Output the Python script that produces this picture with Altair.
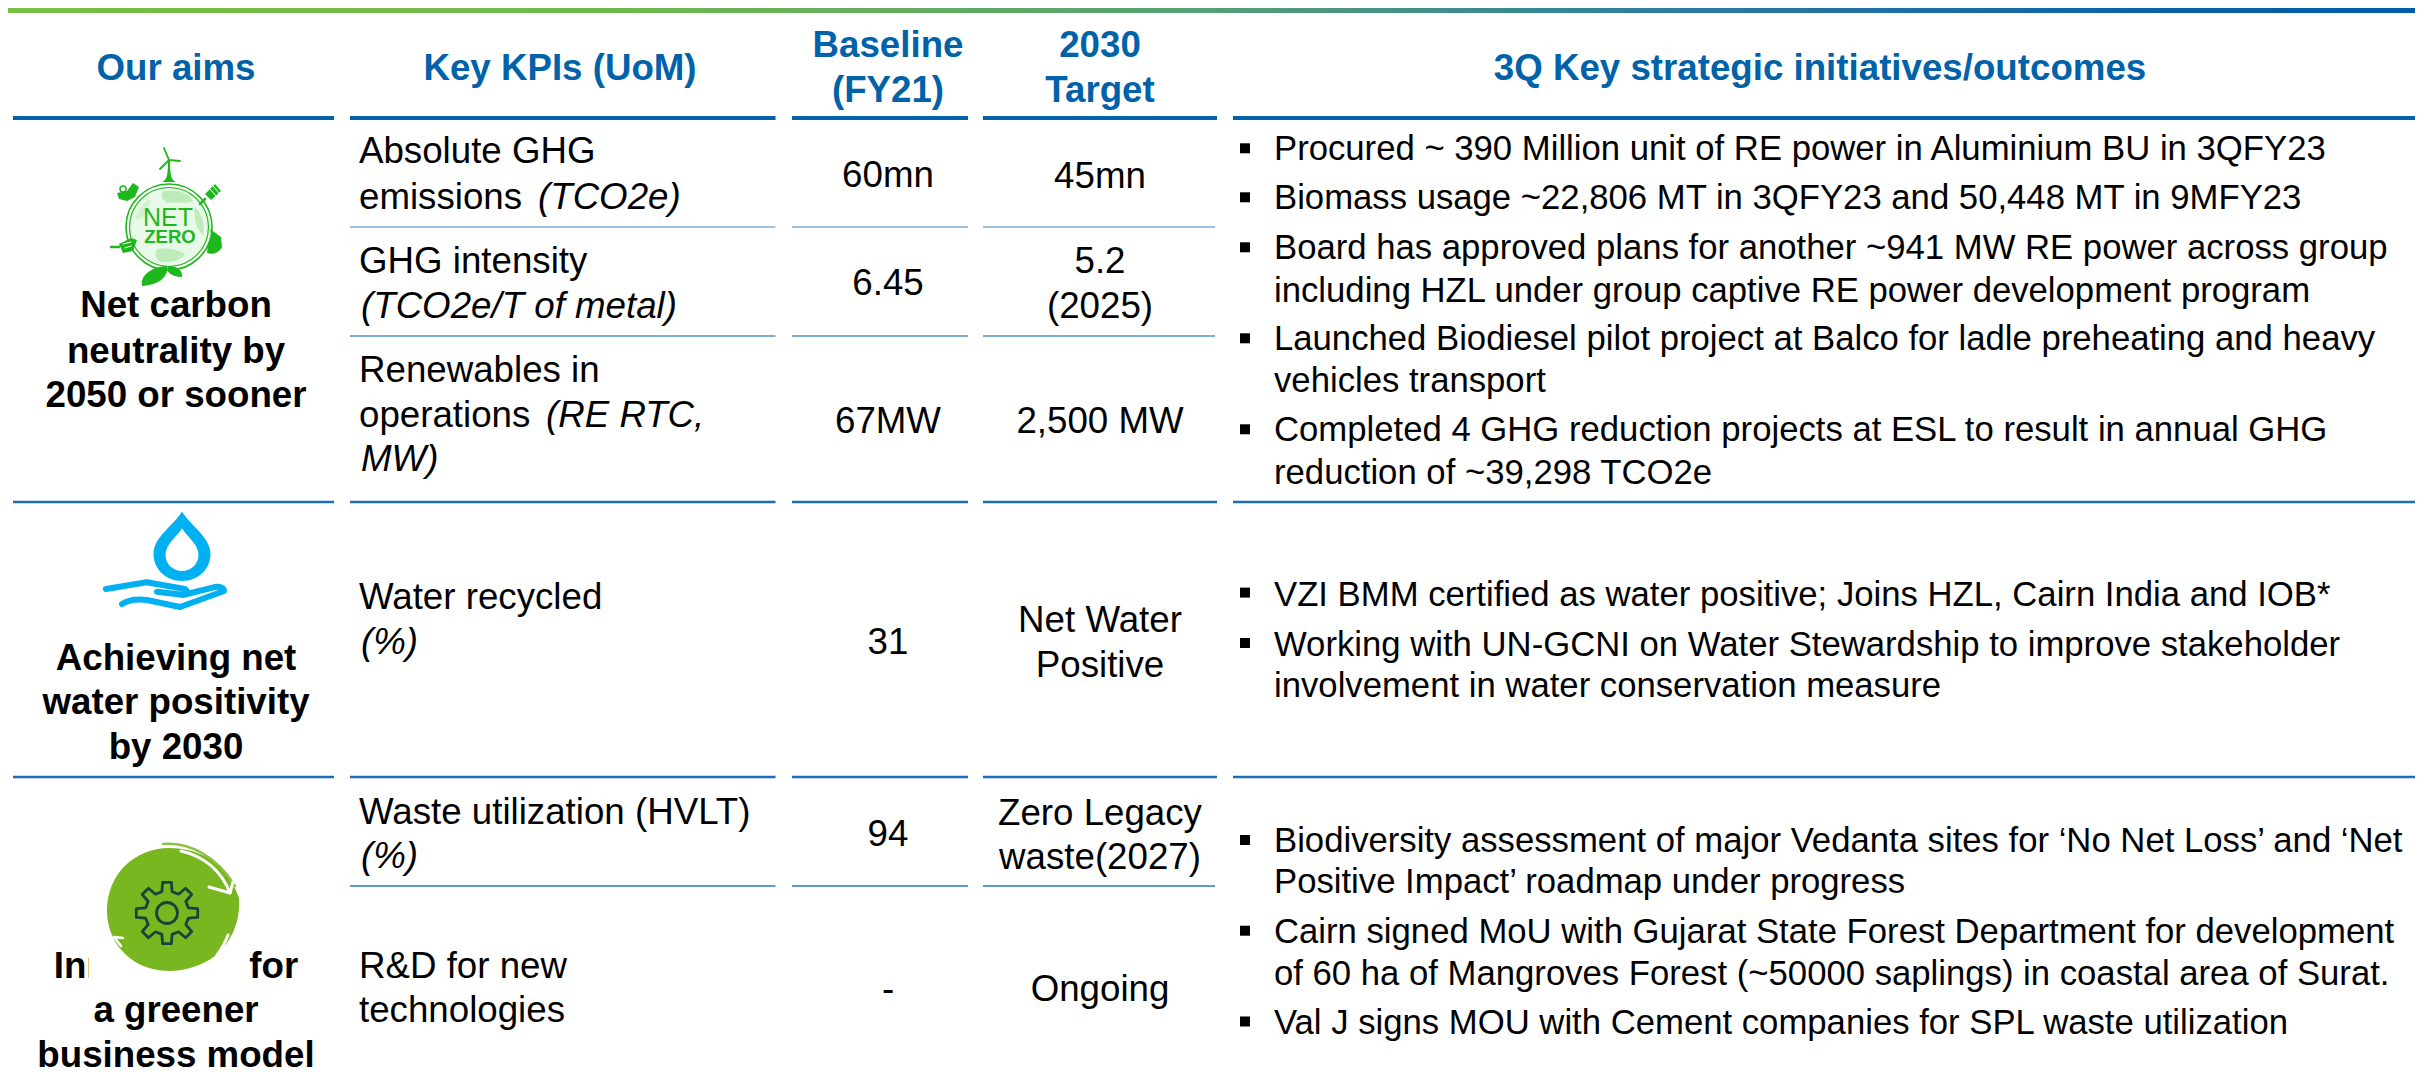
import math
import altair as alt
import pandas as pd

W, H = 2415, 1078
M = 8
FONT = "Liberation Sans"
BLUE = "#0062A9"
SKY = "#00B0F0"
LEAF = "#1CB81C"

# ---- text of the table ----
header_text = ["Our aims", "Key KPIs (UoM)", "Baseline", "(FY21)", "2030", "Target", "3Q Key strategic initiatives/outcomes"]
header_x = [176, 560, 888, 888, 1100, 1100, 1820]
header_y = [80, 80, 56.5, 101.5, 56.5, 101.5, 80]

aim_text = ["Net carbon", "neutrality by", "2050 or sooner", "Achieving net", "water positivity", "by 2030",
            "Innovation for", "a greener", "business model"]
aim_x = [176] * 9
aim_y = [317, 363, 407, 669.5, 714, 759, 978, 1021.5, 1066.5]

kpi_text = ["Absolute GHG", "emissions ", "GHG intensity", "Renewables in", "operations ", "Water recycled",
            "Waste utilization (HVLT)", "R&D for new", "technologies"]
kpi_x = [359] * 9
kpi_y = [163, 208.5, 272.5, 381.5, 427, 608.5, 824, 978, 1021.5]

unit_text = ["(TCO2e)", "(TCO2e/T of metal)", "(RE RTC,", "MW)", "(%)", "(%)"]
unit_x = [538, 361, 546, 361, 361, 361]
unit_y = [208.5, 318, 427, 471, 653.5, 868]

value_text = ["60mn", "6.45", "67MW", "31", "94", "-",
              "45mn", "5.2", "(2025)", "2,500 MW", "Net Water", "Positive", "Zero Legacy", "waste(2027)", "Ongoing"]
value_x = [888] * 6 + [1100] * 9
value_y = [187, 295, 432.5, 653.5, 846, 1001, 187.5, 273, 318, 433, 631.5, 677, 825, 869, 1001]

bullet_text = ["Procured ~ 390 Million unit of RE power in Aluminium BU in 3QFY23",
               "Biomass usage ~22,806 MT in 3QFY23 and 50,448 MT in 9MFY23",
               "Board has approved plans for another ~941 MW RE power across group",
               "including HZL under group captive RE power development program",
               "Launched Biodiesel pilot project at Balco for ladle preheating and heavy",
               "vehicles transport",
               "Completed 4 GHG reduction projects at ESL to result in annual GHG",
               "reduction of ~39,298 TCO2e",
               "VZI BMM certified as water positive; Joins HZL, Cairn India and IOB*",
               "Working with UN-GCNI on Water Stewardship to improve stakeholder",
               "involvement in water conservation measure",
               "Biodiversity assessment of major Vedanta sites for ‘No Net Loss’ and ‘Net",
               "Positive Impact’ roadmap under progress",
               "Cairn signed MoU with Gujarat State Forest Department for development",
               "of 60 ha of Mangroves Forest (~50000 saplings) in coastal area of Surat.",
               "Val J signs MOU with Cement companies for SPL waste utilization"]
bullet_x = [1274] * 16
bullet_y = [160.3, 209.3, 259.3, 301.7, 350, 392.4, 441.4, 483.8, 605.5, 655.6, 697.4, 851.9, 893.3, 943, 985, 1034]

mark_x = [1245] * 10
mark_y = [148.3, 197.3, 247.3, 338.3, 429.3, 592.6, 643, 840, 930.7, 1021.5]

# ---- rules: start, end, level, weight, colour ----
col_start = [13, 350, 792, 983, 1233]
col_end = [334, 775.5, 968, 1217, W]
rule_levels = [118, 502, 777]
rule_weights = [4, 2.5, 2.5]
rule_colors = [BLUE, "#1B6DB5", "#1B6DB5"]
sub_start = [350, 792, 983]
sub_end = [775.5, 968, 1215]
sub_levels = [227, 336, 886]
sub_weights = [1.5, 2, 1.5]
sub_colors = ["#7FAED6", "#7FAED6", "#2A77BC"]

XS = alt.Scale(domain=[M, W], range=[0, W - M], nice=False, zero=False)
YS = alt.Scale(domain=[H, M], range=[H - M, 0], nice=False, zero=False)
X = alt.X("x:Q", scale=XS, axis=None)
Y = alt.Y("y:Q", scale=YS, axis=None)


def text_layer(texts, xs, ys, **kw):
    df = pd.DataFrame({"t": texts, "x": xs, "y": ys})
    opts = dict(font=FONT, fontSize=36.7, baseline="alphabetic", align="left", color="#000000")
    opts.update(kw)
    return alt.Chart(df).mark_text(**opts).encode(x=X, y=Y, text="t:N")


def span_layer(x1, x2, y, weight, color):
    df = pd.DataFrame({"x": x1, "x2": x2, "y": [y] * len(x1)})
    return alt.Chart(df).mark_rule(strokeWidth=weight, color=color).encode(x=X, x2="x2:Q", y=Y)


def shape_layer(cx, cy, path, fill=None, stroke=None, sw=0, size=4):
    # size 4 makes one path unit one pixel
    opts = dict(shape=path, size=size, opacity=1, strokeCap="round", strokeJoin="round")
    if fill:
        opts.update(fill=fill, filled=True)
    else:
        opts.update(filled=False, fillOpacity=0)
    if stroke:
        opts.update(stroke=stroke, strokeWidth=sw)
    else:
        opts.update(strokeWidth=0)
    return alt.Chart(pd.DataFrame({"x": [cx], "y": [cy]})).mark_point(**opts).encode(x=X, y=Y)


def circle(r):
    return f"M{-r},0A{r},{r} 0 1,1 {r},0A{r},{r} 0 1,1 {-r},0Z"


def gear(ro, ri, teeth=8):
    pts = []
    for k in range(teeth):
        c = 2 * math.pi * k / teeth
        d = 2 * math.pi / teeth
        for ang, rad in ((c - .30 * d, ri), (c - .18 * d, ro), (c + .18 * d, ro), (c + .30 * d, ri)):
            pts.append(f"{rad * math.cos(ang):.1f},{rad * math.sin(ang):.1f}")
    return "M" + "L".join(pts) + "Z"


layers = []

# top gradient band
band = alt.LinearGradient(
    gradient="linear", x1=0, x2=1, y1=0, y2=0,
    stops=[alt.GradientStop(color="#78BE43", offset=0), alt.GradientStop(color="#70B84C", offset=.25),
           alt.GradientStop(color="#55A075", offset=.5), alt.GradientStop(color="#2C7AA0", offset=.7),
           alt.GradientStop(color="#0A60A8", offset=.9), alt.GradientStop(color="#005CA9", offset=1)])
layers.append(alt.Chart(pd.DataFrame({"x": [M], "x2": [W], "y": [M], "y2": [M + 5]}))
              .mark_rect(color=band).encode(x=X, x2="x2:Q", y=Y, y2="y2:Q"))

for lvl, wt, col in zip(rule_levels, rule_weights, rule_colors):
    layers.append(span_layer(col_start, col_end, lvl, wt, col))
for lvl, wt, col in zip(sub_levels, sub_weights, sub_colors):
    layers.append(span_layer(sub_start, sub_end, lvl, wt, col))

layers.append(text_layer(header_text, header_x, header_y, align="center", fontWeight="bold", color=BLUE))
layers.append(text_layer(aim_text, aim_x, aim_y, align="center", fontWeight="bold"))
layers.append(text_layer(kpi_text, kpi_x, kpi_y))
layers.append(text_layer(unit_text, unit_x, unit_y, fontStyle="italic"))
layers.append(text_layer(value_text, value_x, value_y, align="center"))
layers.append(text_layer(bullet_text, bullet_x, bullet_y, fontSize=34.7))
layers.append(alt.Chart(pd.DataFrame({"x": mark_x, "y": mark_y}))
              .mark_square(size=100, color="#000000", opacity=1).encode(x=X, y=Y))

# ---- net zero badge ----
gx, gy = 169, 227
layers += [
    shape_layer(gx, gy, "M-7,-45C-2,-47 -1,-52 -1,-67L1,-67C1,-52 2,-47 7,-45Z", fill=LEAF),
    shape_layer(gx, gy, "M0,-67L-5,-79M0,-67L11,-66M0,-67L-9,-58", stroke=LEAF, sw=1.8),
    shape_layer(gx, gy, circle(43), fill="#FFFFFF", stroke=LEAF, sw=1.6),
    shape_layer(gx, gy, circle(39.5), fill="#E9F9E7", stroke=LEAF, sw=1.2),
    shape_layer(gx, gy, "M-6,-36C8,-38 20,-34 24,-26C14,-22 6,-26 -2,-24C-8,-28 -8,-32 -6,-36Z", fill="#BEEBBA"),
    shape_layer(gx, gy, "M26,-20C34,-12 36,-2 34,8C28,4 24,-10 26,-20Z", fill="#BEEBBA"),
    shape_layer(gx, gy, "M-12,22C0,20 14,24 16,28C8,36 -4,36 -10,34C-14,30 -14,26 -12,22Z", fill="#BEEBBA"),
    shape_layer(gx, gy, "M-34,-8C-30,-20 -24,-26 -18,-28C-20,-16 -26,-6 -34,-8Z", fill="#D2F1CF"),
    # left upper vehicle
    shape_layer(gx, gy, "M-52,-34L-42,-36L-36,-44L-30,-40L-34,-30L-42,-26L-50,-28Z", fill=LEAF),
    shape_layer(gx - 46, gy - 38, circle(3), fill="#FFFFFF", stroke=LEAF, sw=1.5),
    # right upper panel
    shape_layer(gx, gy, "M36,-33L46,-43L52,-36L42,-27Z", fill=LEAF),
    shape_layer(gx, gy, "M41,-38L47,-31M44,-41L50,-34", stroke="#FFFFFF", sw=1),
    shape_layer(gx, gy, "M36,-28L31,-23", stroke=LEAF, sw=2.5),
    # left lower machine
    shape_layer(gx, gy, "M-50,17L-38,11L-32,13L-36,24L-46,26Z", fill=LEAF),
    shape_layer(gx, gy, "M-58,20L-50,20", stroke=LEAF, sw=2.5),
    shape_layer(gx, gy, "M-46,17L-38,15M-44,21L-38,19", stroke="#FFFFFF", sw=1),
    # right lower can
    shape_layer(gx, gy, "M41,2L52,10L53,20C50,26 44,28 38,26L39,16C43,12 43,8 41,2Z", fill=LEAF),
    # leaves
    shape_layer(gx, gy, "M-2,39C-20,40 -29,50 -27,59C-12,58 0,51 -2,39Z", fill=LEAF),
    shape_layer(gx, gy, "M-1,39C-4,44 2,50 13,50C14,44 8,38 -1,39Z", fill=LEAF),
]
layers.append(text_layer(["NET"], [gx - 1], [gy - 1], fontSize=25, align="center", color=LEAF))
layers.append(text_layer(["ZERO"], [gx + 1], [gy + 16], fontSize=18.5, fontWeight="bold",
                         align="center", color=LEAF))

# ---- water drop ----
dx, dy = 182, 545
layers += [
    shape_layer(dx, dy, "M0,-33.5C8,-20 28.5,-8 28.5,9C28.5,25 15,36 0,36C-15,36 -28.5,25 -28.5,9C-28.5,-8 -8,-20 0,-33.5Z", fill=SKY),
    shape_layer(dx, dy, "M0,-16.7C5,-8 16.5,-1 16.5,10C16.5,19 9,26 0,26C-9,26 -16.5,19 -16.5,10C-16.5,-1 -5,-8 0,-16.7Z", fill="#FFFFFF"),
    shape_layer(dx, dy, "M-76,44L-35.3,37.3L3,44Q8,48 2,50L-25,46.7M5,49L34.7,41.7Q42,42 42,46L-2,62L-35,55Q-50,53 -60,59",
                stroke=SKY, sw=6),
]

# ---- gear badge: a white backing hides the middle of the line below it ----
layers.append(alt.Chart(pd.DataFrame({"x": [89], "x2": [249], "y": [838], "y2": [986]}))
              .mark_rect(color="#FFFFFF").encode(x=X, x2="x2:Q", y=Y, y2="y2:Q"))
bx, by = 173, 910
layers += [
    shape_layer(bx, by, "M-66,0C-66,-36 -38,-62 -4,-62C28,-62 54,-46 66,-12C68,14 56,34 42,46C20,62 -10,66 -34,54C-56,42 -66,22 -66,0Z", fill="#78B71F"),
    shape_layer(bx, by, "M-10,-66C16,-68 44,-54 62,-24", stroke="#8CC04A", sw=2.5),
    shape_layer(bx, by, "M8,-59C30,-54 48,-40 57,-17", stroke="#FFFFFF", sw=3),
    shape_layer(bx, by, "M36,-23L57,-17L60,-28", stroke="#FFFFFF", sw=3),
    shape_layer(bx, by, "M55,25C52,33 48,40 44,45", stroke="#FFFFFF", sw=3),
    shape_layer(bx, by, "M-50,28L-59,27L-52,36", stroke="#FFFFFF", sw=2.5),
    shape_layer(bx - 6, by + 3, gear(31, 22), stroke="#17453A", sw=2.8),
    shape_layer(bx - 6, by + 3, circle(10.5), stroke="#17453A", sw=2.8),
]

chart = alt.layer(*layers).properties(
    width=W - M, height=H - M, padding=0,
    autosize=alt.AutoSizeParams(type="none"),
    background="#FFFFFF",
).configure_view(stroke=None)

chart.save("out.html", embed_options={"renderer": "svg", "actions": False})
